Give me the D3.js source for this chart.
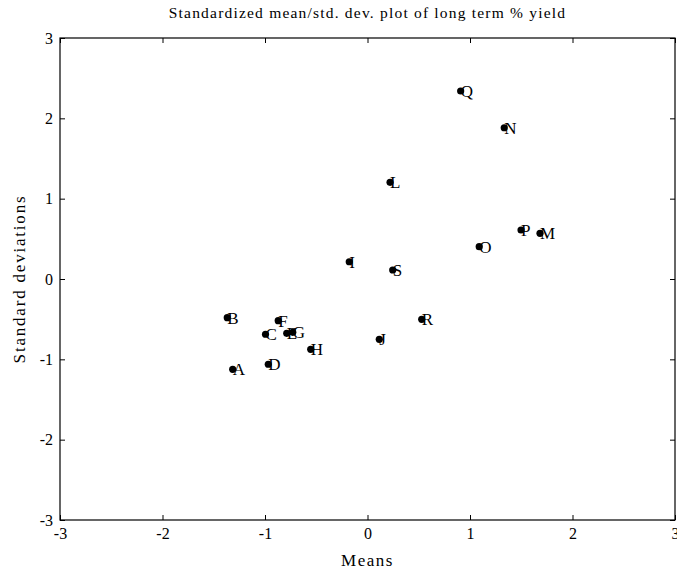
<!DOCTYPE html>
<html><head><meta charset="utf-8">
<script src="https://cdn.jsdelivr.net/npm/d3@7"></script>
<style>body{margin:0;background:#fff}svg{display:block}text{font-family:"Liberation Serif","Times New Roman",serif;fill:#000}</style>
</head><body>
<script>
const labels = ["A","B","C","D","E","F","G","H","I","J","L","M","N","O","P","Q","R","S"];
const means  = [-1.315,-1.368,-0.995,-0.968,-0.788,-0.871,-0.729,-0.554,-0.178,0.115,0.220,1.683,1.334,1.090,1.498,0.909,0.529,0.246];
const stds   = [-1.124,-0.482,-0.688,-1.061,-0.676,-0.519,-0.664,-0.875,0.215,-0.751,1.204,0.568,1.883,0.403,0.610,2.340,-0.502,0.112];
const ticks  = [-3,-2,-1,0,1,2,3];

const W=677,H=570, L=60, R=675, T=38, B=520;
const svg=d3.select("body").append("svg").attr("width",W).attr("height",H);
const x=d3.scaleLinear().domain([-3,3]).range([L,R]);
const y=d3.scaleLinear().domain([-3,3]).range([B,T]);
const fmt=d=>String(d);

function styleAxis(g){g.select(".domain").remove();g.selectAll("line").attr("stroke","#000");g.selectAll("text").style("font-size","16px").style("font-family","'Liberation Serif',serif");}
svg.append("g").attr("transform",`translate(0,${B})`).call(d3.axisBottom(x).tickValues(ticks).tickSize(-5).tickPadding(8).tickFormat(fmt)).call(styleAxis);
svg.append("g").attr("transform",`translate(${L},0)`).call(d3.axisLeft(y).tickValues(ticks).tickSize(-5).tickPadding(7).tickFormat(fmt)).call(styleAxis);
svg.append("g").attr("transform",`translate(0,${T})`).call(d3.axisTop(x).tickValues(ticks).tickSize(-5).tickFormat("")).call(styleAxis);
svg.append("g").attr("transform",`translate(${R},0)`).call(d3.axisRight(y).tickValues(ticks).tickSize(-5).tickFormat("")).call(styleAxis);
svg.append("rect").attr("x",L).attr("y",T).attr("width",R-L).attr("height",B-T).attr("fill","none").attr("stroke","#000").attr("stroke-width",1.2);

const pts=labels.map((l,i)=>({l,m:means[i],s:stds[i]}));
svg.selectAll("circle.p").data(pts).enter().append("circle").attr("class","p")
  .attr("cx",d=>x(d.m)).attr("cy",d=>y(d.s)).attr("r",3.6).attr("fill","#000");
svg.selectAll("text.lab").data(pts).enter().append("text").attr("class","lab")
  .attr("x",d=>x(d.m)).attr("y",d=>y(d.s)).attr("dy","0.35em").style("font-size","17px").text(d=>d.l);

svg.append("text").attr("x",(L+R)/2).attr("y",18).attr("text-anchor","middle").style("font-size","15.5px").style("letter-spacing","1.2px").text("Standardized mean/std. dev. plot of long term % yield");
svg.append("text").attr("x",(L+R)/2).attr("y",566).attr("text-anchor","middle").style("font-size","17px").style("letter-spacing","1.5px").text("Means");
svg.append("text").attr("transform",`translate(25,${(T+B)/2}) rotate(-90)`).attr("text-anchor","middle").style("font-size","17px").style("letter-spacing","1.8px").text("Standard deviations");
</script>
</body></html>
